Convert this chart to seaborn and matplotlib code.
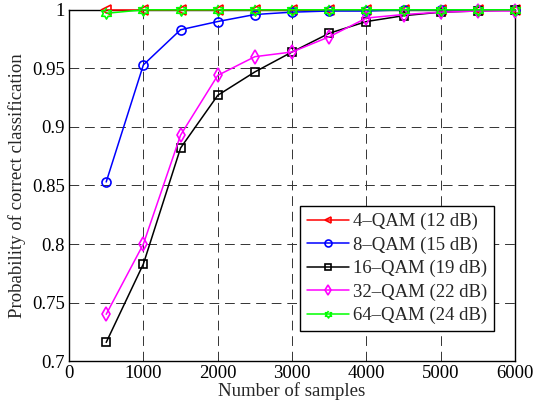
import matplotlib
matplotlib.use("Agg")
import matplotlib.pyplot as plt
import numpy as np
import pandas as pd
import seaborn as sns

samples = [500, 1000, 1500, 2000, 2500, 3000, 3500, 4000, 4500, 5000, 5500, 6000]
qam4 = [1.0, 1.0, 1.0, 1.0, 1.0, 1.0, 1.0, 1.0, 1.0, 1.0, 1.0, 1.0]
qam8 = [0.853, 0.953, 0.983, 0.990, 0.996, 0.998, 0.999, 0.999, 1.0, 1.0, 1.0, 1.0]
qam16 = [0.716, 0.783, 0.882, 0.927, 0.947, 0.964, 0.980, 0.990, 0.995, 0.998, 0.999, 1.0]
qam32 = [0.740, 0.800, 0.893, 0.944, 0.960, 0.964, 0.977, 0.993, 0.996, 0.998, 0.999, 0.999]
qam64 = [0.997, 1.0, 1.0, 1.0, 1.0, 1.0, 1.0, 1.0, 1.0, 1.0, 1.0, 1.0]

labels = ["4\u2013QAM (12 dB)", "8\u2013QAM (15 dB)", "16\u2013QAM (19 dB)",
          "32\u2013QAM (22 dB)", "64\u2013QAM (24 dB)"]
colors = ["#ff0000", "#0000ff", "#000000", "#ff00ff", "#00ff00"]

# matlab style hexagram for the 64-QAM curve
ang = np.pi / 2 + np.arange(12) * np.pi / 6
rad = np.where(np.arange(12) % 2 == 0, 1.0, 0.58)
hexagram = list(zip(rad * np.cos(ang), rad * np.sin(ang)))

markers = ["<", "o", "s", "d", hexagram]
msizes = [7, 6.5, 5.5, 7.5, 8]

sns.set_style("white")
plt.rcParams["font.family"] = ["Liberation Serif", "DejaVu Serif"]

fig = plt.figure(figsize=(5.35, 4.09), dpi=100)
ax = fig.add_axes([0.129, 0.117, 0.834, 0.859])

series = [qam4, qam8, qam16, qam32, qam64]
for vals, lab, c, m, ms in zip(series, labels, colors, markers, msizes):
    df = pd.DataFrame({"n": samples, "p": vals})
    sns.lineplot(data=df, x="n", y="p", ax=ax, color=c, marker=m, markersize=ms,
                 markerfacecolor="none", markeredgecolor=c, markeredgewidth=1.2,
                 linewidth=1.1, label=lab, clip_on=False, zorder=3)

ax.set_xlim(0, 6000)
ax.set_ylim(0.7, 1.0)
ax.set_xticks(np.arange(0, 6001, 1000))
ax.set_yticks([0.7, 0.75, 0.8, 0.85, 0.9, 0.95, 1.0])
ax.set_yticklabels(["0.7", "0.75", "0.8", "0.85", "0.9", "0.95", "1"])
ax.grid(True, color="#333333", linestyle=(0, (10, 6)), linewidth=0.7)
ax.set_axisbelow(True)
ax.tick_params(direction="in", length=4, labelsize=13.5, colors="black", pad=3)
for s in ax.spines.values():
    s.set_color("black")
    s.set_linewidth(1.0)
ax.set_xlabel("Number of samples", fontsize=13.5, labelpad=0)
ax.set_ylabel("Probability of correct classification", fontsize=13.5, labelpad=4)

leg = ax.legend(loc="lower right", bbox_to_anchor=(0.953, 0.085), fontsize=13.5,
                frameon=True, fancybox=False, edgecolor="black", framealpha=1,
                handlelength=2.25, borderpad=0.38, labelspacing=0.33, handletextpad=0.2,
                borderaxespad=0)
leg.get_frame().set_linewidth(1.0)
for h in leg.get_lines():
    h.set_markersize(5)

fig.savefig("out.png", dpi=100)
